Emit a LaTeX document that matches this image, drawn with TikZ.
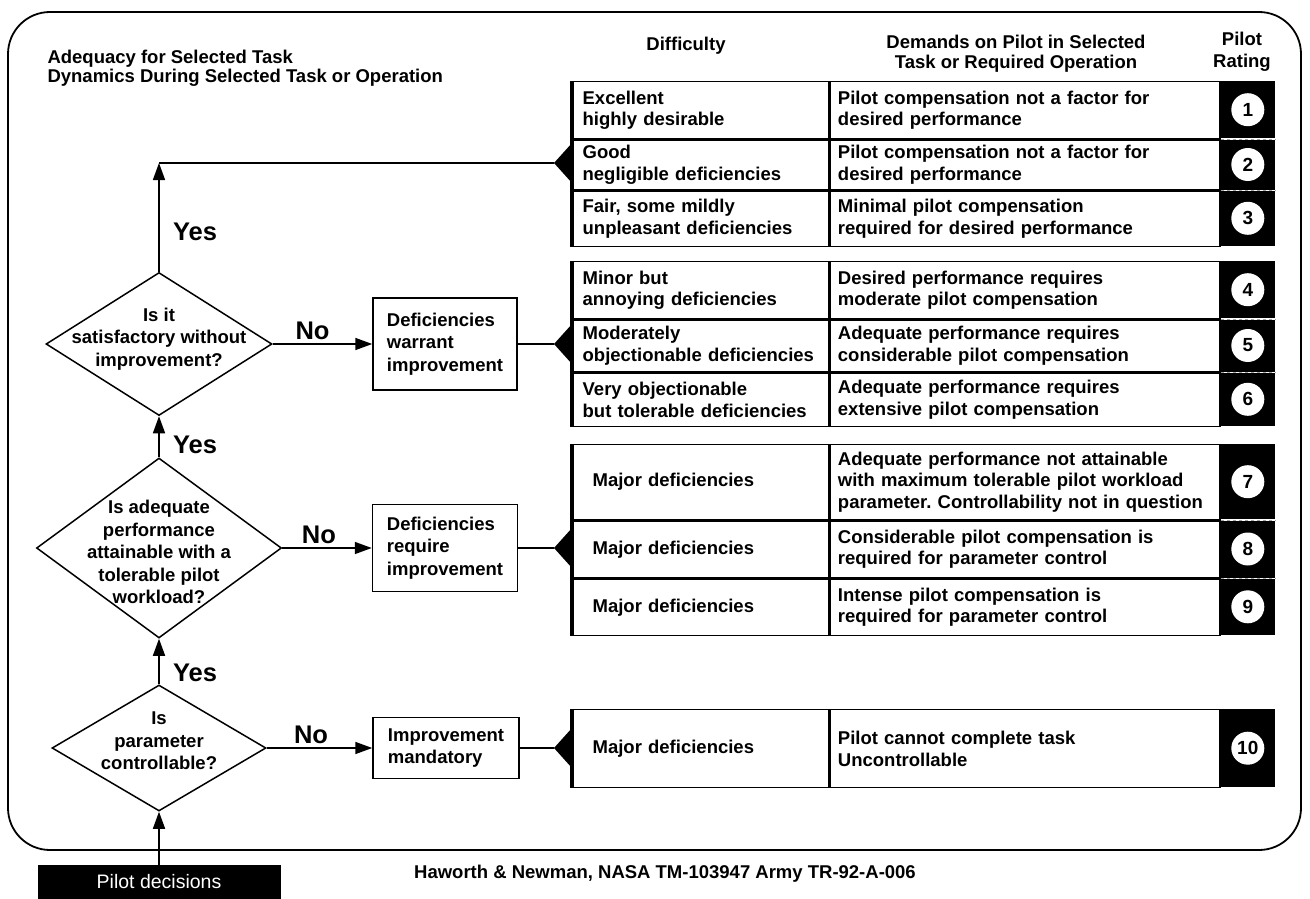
\documentclass[tikz,border=0pt]{standalone}
\usepackage{fontspec}
\setmainfont{Liberation Sans}
\usetikzlibrary{arrows.meta,positioning,shapes.geometric}
\frenchspacing

\tikzset{
  txt/.style={font=\bfseries\fontsize{18.5}{21.5}\selectfont},
  flow/.style={font=\bfseries\fontsize{18.5}{22.5}\selectfont},
  decision/.style={draw, diamond, line width=1.5pt, inner sep=0pt},
  stepbox/.style={draw, rectangle, line width=1.5pt, flow, align=left, inner xsep=7pt},
  cella/.style={draw, line width=1.3pt, txt, align=left, anchor=north west, text width=236pt, inner xsep=10pt, inner ysep=0pt},
  cellb/.style={draw, line width=1.3pt, txt, align=left, anchor=north west, text width=374pt, inner xsep=8pt, inner ysep=0pt},
  cellr/.style={fill=black, anchor=north west, minimum width=54pt, inner sep=0pt},
  rate/.style={circle, fill=white, minimum size=33pt, inner sep=0pt, font=\bfseries\fontsize{19}{19}\selectfont},
  sep/.style={gray!70, dashed, line width=0.8pt},
  thickedge/.style={line width=4.5pt},
  arr/.style={line width=1.6pt, -{Triangle[length=17pt,width=12pt]}},
  conn/.style={line width=1.6pt},
  yesno/.style={font=\bfseries\fontsize{25.5}{25.5}\selectfont},
}

\begin{document}
\begin{tikzpicture}[x=1pt,y=-1pt]
  \useasboundingbox (0,0) rectangle (1310,899);
  % outer frame
  \draw[line width=1.8pt, rounded corners=42pt] (8,12) rectangle (1301,850);

  % headings
  \node[txt, anchor=west, align=left, font=\bfseries\fontsize{18.5}{19}\selectfont] (hdtask) at (44,68) {Adequacy for Selected Task\\Dynamics During Selected Task or Operation};
  \node[txt] (hddiff) at (686,46) {Difficulty};
  \node[txt, align=center, font=\bfseries\fontsize{18.5}{20}\selectfont] (hddem) at (1016,54) {Demands on Pilot in Selected\\Task or Required Operation};
  \node[txt, align=center, font=\bfseries\fontsize{18.5}{22}\selectfont] (hdrate) at (1242,52) {Pilot\\Rating};

  % ratings 1-3
  \node[cella, minimum height=57pt] (a1) at (572,81) {Excellent\\highly desirable};
  \node[cellb, minimum height=57pt] (b1) at (a1.north east) {Pilot compensation not a factor for\\desired performance};
  \node[cellr, minimum height=57pt] (c1) at (b1.north east) {};
  \node[cella, minimum height=50pt] (a2) at (a1.south west) {Good\\negligible deficiencies};
  \node[cellb, minimum height=50pt] (b2) at (a2.north east) {Pilot compensation not a factor for\\desired performance};
  \node[cellr, minimum height=50pt] (c2) at (b2.north east) {};
  \node[cella, minimum height=55pt] (a3) at (a2.south west) {Fair, some mildly\\unpleasant deficiencies};
  \node[cellb, minimum height=55pt] (b3) at (a3.north east) {Minimal pilot compensation\\required for desired performance};
  \node[cellr, minimum height=55pt] (c3) at (b3.north east) {};
  \draw[thickedge] (a1.north west) -- (a3.south west);

  % ratings 4-6
  \node[cella, minimum height=57pt] (a4) at (572,261) {Minor but\\annoying deficiencies};
  \node[cellb, minimum height=57pt] (b4) at (a4.north east) {Desired performance requires\\moderate pilot compensation};
  \node[cellr, minimum height=57pt] (c4) at (b4.north east) {};
  \node[cella, minimum height=52pt] (a5) at (a4.south west) {Moderately\\objectionable deficiencies};
  \node[cellb, minimum height=52pt] (b5) at (a5.north east) {Adequate performance requires\\considerable pilot compensation};
  \node[cellr, minimum height=52pt] (c5) at (b5.north east) {};
  \node[cella, minimum height=53pt] (a6) at (a5.south west) {Very objectionable\\but tolerable deficiencies};
  \node[cellb, minimum height=53pt] (b6) at (a6.north east) {Adequate performance requires\\extensive pilot compensation};
  \node[cellr, minimum height=53pt] (c6) at (b6.north east) {};
  \draw[thickedge] (a4.north west) -- (a6.south west);

  % ratings 7-9
  \node[cella, text width=216pt, inner xsep=20pt, minimum height=75pt] (a7) at (572,444) {Major deficiencies};
  \node[cellb, minimum height=75pt] (b7) at (a7.north east) {Adequate performance not attainable\\with maximum tolerable pilot workload\\parameter. Controllability not in question};
  \node[cellr, minimum height=75pt] (c7) at (b7.north east) {};
  \node[cella, text width=216pt, inner xsep=20pt, minimum height=57pt] (a8) at (a7.south west) {Major deficiencies};
  \node[cellb, minimum height=57pt] (b8) at (a8.north east) {Considerable pilot compensation is\\required for parameter control};
  \node[cellr, minimum height=57pt] (c8) at (b8.north east) {};
  \node[cella, text width=216pt, inner xsep=20pt, minimum height=56pt] (a9) at (a8.south west) {Major deficiencies};
  \node[cellb, minimum height=56pt] (b9) at (a9.north east) {Intense pilot compensation is\\required for parameter control};
  \node[cellr, minimum height=56pt] (c9) at (b9.north east) {};
  \draw[thickedge] (a7.north west) -- (a9.south west);

  % rating 10
  \node[cella, text width=216pt, inner xsep=20pt, minimum height=78pt] (a10) at (572,709) {Major deficiencies};
  \node[cellb, minimum height=78pt] (b10) at (a10.north east) {Pilot cannot complete task\\Uncontrollable};
  \node[cellr, minimum height=78pt] (c10) at (b10.north east) {};
  \draw[thickedge] (a10.north west) -- (a10.south west);

  % rating column
  \draw[sep] (c2.north west) -- (c2.north east);
  \draw[sep] (c3.north west) -- (c3.north east);
  \draw[sep] (c5.north west) -- (c5.north east);
  \draw[sep] (c6.north west) -- (c6.north east);
  \draw[sep] (c8.north west) -- (c8.north east);
  \draw[sep] (c9.north west) -- (c9.north east);
  \node[rate] (r1) at (c1) {1};
  \node[rate] (r2) at (c2) {2};
  \node[rate] (r3) at (c3) {3};
  \node[rate] (r4) at (c4) {4};
  \node[rate] (r5) at (c5) {5};
  \node[rate] (r6) at (c6) {6};
  \node[rate] (r7) at (c7) {7};
  \node[rate] (r8) at (c8) {8};
  \node[rate] (r9) at (c9) {9};
  \node[rate] (r10) at (c10) {10};

  % wedges on the tables
  \coordinate (w1) at (554,163);
  \coordinate (w2) at (554,344);
  \coordinate (w3) at (554,548);
  \coordinate (w4) at (554,748);
  \fill (w1) -- ++(18,-20) -- ++(0,40) -- cycle;
  \fill (w2) -- ++(18,-20) -- ++(0,40) -- cycle;
  \fill (w3) -- ++(18,-20) -- ++(0,40) -- cycle;
  \fill (w4) -- ++(18,-20) -- ++(0,40) -- cycle;

  % decisions
  \node[decision, minimum width=226pt, minimum height=143pt] (d1) at (159,344) {};
  \node[flow, align=center] (d1t) at (159,339) {Is it\\satisfactory without\\improvement?};
  \node[decision, minimum width=245pt, minimum height=180pt] (d2) at (159,548) {};
  \node[flow, align=center] (d2t) at (159,552) {Is adequate\\performance\\attainable with a\\tolerable pilot\\workload?};
  \node[decision, minimum width=214pt, minimum height=126pt] (d3) at (159,748) {};
  \node[flow, align=center] (d3t) at (159,741) {Is\\parameter\\controllable?};

  \node[stepbox, minimum width=144pt, minimum height=92pt] (wa) at (445,344) {Deficiencies\\warrant\\improvement};
  \node[stepbox, minimum width=145pt, minimum height=87pt] (rq) at (445,548) {Deficiencies\\require\\improvement};
  \node[stepbox, minimum width=146pt, minimum height=61pt] (md) at (446,748) {Improvement\\mandatory};

  \node[fill=black, text=white, minimum width=243pt, minimum height=34pt, inner sep=0pt, font=\fontsize{19.5}{19.5}\selectfont] (pd) at (159,882) {Pilot decisions};
  \node[txt] (src) at (665,874) {Haworth \& Newman, NASA TM-103947 Army TR-92-A-006};

  % connectors
  \coordinate (yc) at (159,163);
  \draw[arr] (d1.north) -- node[yesno, right=10pt, pos=0.37] (yes1) {Yes} (yc);
  \draw[conn] (yc) -- (w1);
  \draw[arr] (d1.east) -- node[yesno, above=0pt, pos=0.4] (no1) {No} (wa.west);
  \draw[conn] (wa.east) -- (w2);
  \draw[arr] (d2.north) -- node[yesno, right=10pt, pos=0.3] (yes2) {Yes} (d1.south);
  \draw[arr] (d2.east) -- node[yesno, above=0pt, pos=0.41] (no2) {No} (rq.west);
  \draw[conn] (rq.east) -- (w3);
  \draw[arr] (d3.north) -- node[yesno, right=10pt, pos=0.25] (yes3) {Yes} (d2.south);
  \draw[arr] (d3.east) -- node[yesno, above=0pt, pos=0.42] (no3) {No} (md.west);
  \draw[conn] (md.east) -- (w4);
  \draw[arr] (pd.north) -- (d3.south);
\end{tikzpicture}
\end{document}
